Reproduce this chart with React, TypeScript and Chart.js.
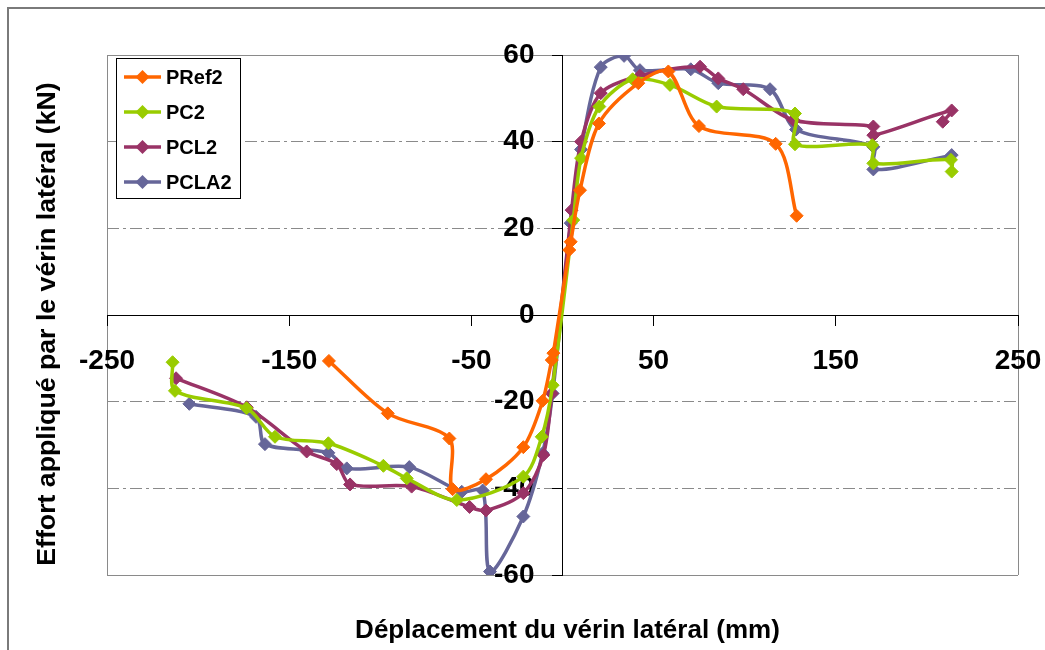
import React, { useEffect, useRef } from 'react';
import { Chart, registerables } from 'chart.js';

Chart.register(...registerables);

const FONT = 'Arial, "Liberation Sans", sans-serif';

const SERIES_NAMES = ['PRef2', 'PC2', 'PCL2', 'PCLA2'];
const SERIES_COLORS = ['#FF6600', '#99CC00', '#993366', '#666699'];

const X_TITLE = 'Déplacement du vérin latéral (mm)';
const Y_TITLE = 'Effort appliqué par le vérin latéral (kN)';

const X_TICKS = [-250, -150, -50, 50, 150, 250];
const Y_MIN = -60;
const Y_MAX = 60;
const Y_STEP = 20;

const pref2X = [-128.2, -95.9, -62.1, -60.3, -42.0, -21.5, -10.9, -5.9, -5.0, 3.7, 4.5, 9.6, 20.0, 41.6, 58.1, 74.9, 117.0, 128.5];
const pref2Y = [-10.6, -22.7, -28.5, -40.2, -37.9, -30.5, -19.8, -10.4, -8.8, 15.0, 16.9, 28.8, 44.2, 53.5, 56.2, 43.6, 39.5, 22.9];

const pc2X = [-214.0, -212.7, -173.4, -157.8, -128.5, -98.3, -85.5, -58.0, -21.5, -11.4, -5.4, 5.9, 10.2, 20.2, 38.5, 59.0, 84.6, 127.6, 127.6, 170.0, 170.6, 213.2, 213.6];
const pc2Y = [-10.9, -17.5, -21.5, -28.1, -29.6, -34.8, -37.7, -42.7, -37.3, -28.1, -16.2, 21.9, 36.2, 48.1, 54.4, 53.1, 48.1, 46.5, 39.4, 39.2, 35.0, 35.8, 33.1];

const pcl2X = [-212.1, -173.3, -140.4, -123.9, -116.6, -82.8, -51.0, -42.0, -21.5, -10.5, -5.9, 5.0, 10.2, 21.0, 42.5, 75.5, 85.5, 99.2, 126.7, 170.6, 170.6, 213.6, 208.7];
const pcl2Y = [-14.6, -21.3, -31.5, -34.4, -39.1, -39.6, -44.3, -45.1, -41.1, -32.3, -18.1, 24.2, 40.0, 51.2, 55.2, 57.3, 54.6, 52.1, 45.0, 43.5, 41.5, 47.2, 44.6];

const pcla2X = [-204.8, -168.2, -163.3, -128.5, -118.4, -84.1, -55.3, -43.8, -39.8, -21.5, -10.9, -5.4, 4.5, 10.2, 21.0, 33.8, 42.5, 70.4, 85.5, 113.9, 128.2, 170.6, 170.6, 213.6];
const pcla2Y = [-20.5, -23.5, -29.8, -31.8, -35.4, -35.1, -40.8, -40.5, -59.2, -46.5, -31.9, -18.1, 21.2, 38.2, 57.2, 59.8, 56.5, 56.7, 53.5, 52.1, 42.8, 38.8, 33.6, 36.9];

const SERIES_X = [pref2X, pc2X, pcl2X, pcla2X];
const SERIES_Y = [pref2Y, pc2Y, pcl2Y, pcla2Y];

const GRID_GRAY = '#8a8a8a';
const CLEAR = 'rgba(0,0,0,0)';

function drawDiamond(ctx: CanvasRenderingContext2D, x: number, y: number, r: number) {
  ctx.beginPath();
  ctx.moveTo(x - r, y);
  ctx.lineTo(x, y - r);
  ctx.lineTo(x + r, y);
  ctx.lineTo(x, y + r);
  ctx.closePath();
  ctx.fill();
}

const boxLegend = {
  id: 'boxLegend',
  afterDraw(chart: any) {
    const { ctx, chartArea } = chart;
    const x0 = chartArea.left + 9;
    const y0 = chartArea.top + 3;
    const w = 124;
    const h = 140;
    ctx.save();
    ctx.fillStyle = '#ffffff';
    ctx.fillRect(x0, y0, w, h);
    ctx.strokeStyle = '#000000';
    ctx.lineWidth = 1;
    ctx.strokeRect(x0 + 0.5, y0 + 0.5, w, h);
    chart.data.datasets.forEach((ds: any, i: number) => {
      const cy = y0 + 19 + i * 35;
      ctx.strokeStyle = ds.borderColor;
      ctx.lineWidth = 3.5;
      ctx.beginPath();
      ctx.moveTo(x0 + 8, cy);
      ctx.lineTo(x0 + 45, cy);
      ctx.stroke();
      ctx.fillStyle = ds.borderColor;
      drawDiamond(ctx, x0 + 26.5, cy, 7);
      ctx.fillStyle = '#000000';
      ctx.font = `bold 20px ${FONT}`;
      ctx.textAlign = 'left';
      ctx.textBaseline = 'middle';
      ctx.fillText(ds.label, x0 + 50, cy + 1);
    });
    ctx.restore();
  },
};

const axisTitles = {
  id: 'axisTitles',
  afterDraw(chart: any) {
    const { ctx, chartArea } = chart;
    ctx.save();
    ctx.fillStyle = '#000000';
    ctx.textAlign = 'center';
    ctx.textBaseline = 'middle';
    ctx.font = `bold 26px ${FONT}`;
    const cx = (chartArea.left + chartArea.right) / 2 + 5;
    ctx.fillText(X_TITLE, cx, chartArea.bottom + 56);
    ctx.font = `bold 26.7px ${FONT}`;
    const cy = (chartArea.top + chartArea.bottom) / 2 + 9;
    ctx.translate(chartArea.left - 59, cy);
    ctx.rotate(-Math.PI / 2);
    ctx.fillText(Y_TITLE, 0, 0);
    ctx.restore();
  },
};

export default function App() {
  const ref = useRef<HTMLCanvasElement>(null);

  useEffect(() => {
    const canvas = ref.current;
    if (!canvas) return;
    Chart.defaults.font.family = FONT;

    const datasets = SERIES_NAMES.map((name, i) => ({
      label: name,
      data: SERIES_X[i].map((x, j) => ({ x, y: SERIES_Y[i][j] })),
      borderColor: SERIES_COLORS[i],
      backgroundColor: SERIES_COLORS[i],
      pointBackgroundColor: SERIES_COLORS[i],
      pointBorderColor: SERIES_COLORS[i],
      borderWidth: 3.5,
      pointStyle: 'rectRot',
      pointRadius: 6.5,
      pointBorderWidth: 1,
      showLine: true,
      tension: 0.3,
      fill: false,
    }));

    const chart = new Chart(canvas, {
      type: 'scatter',
      data: { datasets },
      options: {
        responsive: false,
        animation: false,
        devicePixelRatio: 1,
        events: [],
        layout: { padding: { left: 98, right: 27, top: 46, bottom: 75 } },
        plugins: {
          legend: { display: false },
          tooltip: { enabled: false },
          title: { display: false },
        },
        scales: {
          x: {
            type: 'linear',
            position: { y: 0 },
            min: -250,
            max: 250,
            afterBuildTicks: (s: any) => {
              s.ticks = X_TICKS.map((v) => ({ value: v }));
            },
            afterFit: (s: any) => {
              s.height = 0;
              s.paddingLeft = 0;
              s.paddingRight = 0;
              s.paddingTop = 0;
              s.paddingBottom = 0;
            },
            grid: {
              color: (c: any) => (c.tick && Math.abs(c.tick.value) === 250 ? GRID_GRAY : CLEAR),
              lineWidth: 1,
              drawTicks: true,
              tickLength: 10,
              tickColor: '#000000',
              tickWidth: 1,
            },
            border: { display: true, color: '#000000', width: 1 },
            ticks: {
              color: '#000000',
              font: { size: 28, weight: 'bold' },
              padding: 19,
              maxRotation: 0,
              minRotation: 0,
              autoSkip: false,
              callback: (v: any) => String(v),
            },
          },
          y: {
            type: 'linear',
            position: { x: 0 },
            min: Y_MIN,
            max: Y_MAX,
            afterFit: (s: any) => {
              s.width = 0;
              s.paddingLeft = 0;
              s.paddingRight = 0;
              s.paddingTop = 0;
              s.paddingBottom = 0;
            },
            grid: {
              color: (c: any) => (c.tick && c.tick.value === 0 ? CLEAR : GRID_GRAY),
              lineWidth: 1,
              drawTicks: true,
              tickLength: 10,
              tickColor: '#000000',
              tickWidth: 1,
            },
            border: {
              display: true,
              color: '#000000',
              width: 1,
              dash: (c: any) => (c.tick && Math.abs(c.tick.value) !== 60 ? [12, 4, 3, 4] : []),
            },
            ticks: {
              stepSize: Y_STEP,
              color: '#000000',
              font: { size: 28, weight: 'bold' },
              callback: (v: any) => `${v}\u2002\u2002`,
            },
          },
        },
      } as any,
      plugins: [boxLegend, axisTitles],
    });

    return () => chart.destroy();
  }, []);

  return (
    <div
      style={{
        position: 'fixed',
        left: 7,
        top: 7,
        width: 1036,
        height: 641,
        borderTop: '2px solid #7a7a7a',
        borderLeft: '2px solid #7a7a7a',
        background: '#ffffff',
      }}
    >
      <canvas ref={ref} width={1036} height={641} style={{ display: 'block', width: 1036, height: 641 }} />
    </div>
  );
}
